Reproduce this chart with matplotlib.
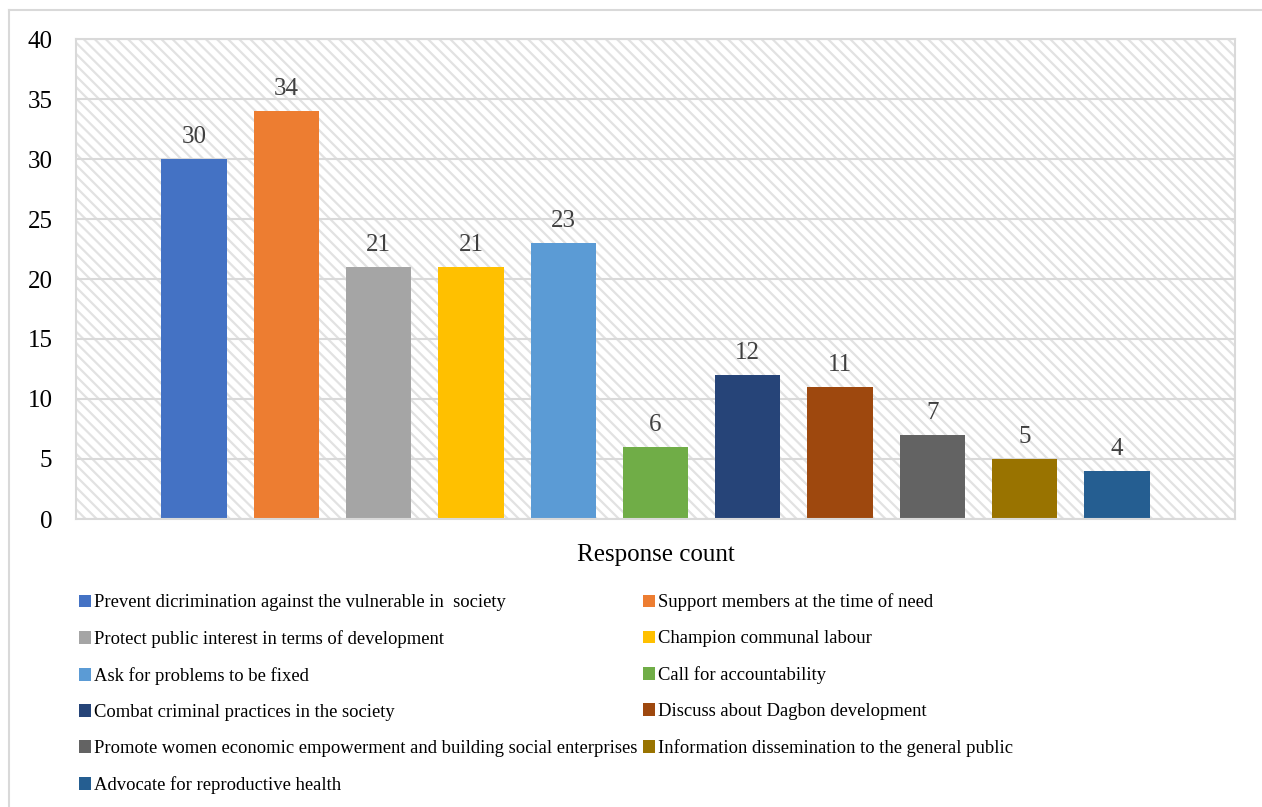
import matplotlib.pyplot as plt
from matplotlib.patches import Rectangle
from matplotlib.lines import Line2D

plt.rcParams['font.family'] = ['Liberation Serif', 'DejaVu Serif']
plt.rcParams['hatch.linewidth'] = 1.6

# responses per role
roles = [
    'Prevent dicrimination against the vulnerable in  society',
    'Support members at the time of need',
    'Protect public interest in terms of development',
    'Champion communal labour',
    'Ask for problems to be fixed',
    'Call for accountability',
    'Combat criminal practices in the society',
    'Discuss about Dagbon development',
    'Promote women economic empowerment and building social enterprises',
    'Information dissemination to the general public',
    'Advocate for reproductive health',
]
counts = [30, 34, 21, 21, 23, 6, 12, 11, 7, 5, 4]
colors = ['#4472C4', '#ED7D31', '#A5A5A5', '#FFC000', '#5B9BD5', '#70AD47',
          '#264478', '#9E480E', '#636363', '#997300', '#255E91']
yticks = [0, 5, 10, 15, 20, 25, 30, 35, 40]

grey = '#d9d9d9'

fig = plt.figure(figsize=(12.62, 8.07), dpi=100)
ax = fig.add_axes([76 / 1262, 1 - 519 / 807, (1235 - 76) / 1262, (519 - 39) / 807])

# hatched plot background
bg = Rectangle((0, 0), 1, 1, transform=ax.transAxes, facecolor='white',
               edgecolor='#e2e2e2', hatch='\\\\\\', linewidth=0, zorder=0)
ax.add_patch(bg)

bars = []
for i, (c, col, lab) in enumerate(zip(counts, colors, roles)):
    b = ax.bar(i, c, width=0.707, color=col, label=lab, zorder=3)
    bars.append(b)
    ax.annotate(str(c), (i, c), xytext=(0, 11.5), textcoords='offset points',
                ha='center', va='baseline', fontsize=18, color='#404040')

ax.set_xlim(-1.28, len(counts) - 1 + 1.28)
ax.set_ylim(0, 40)
ax.set_yticks(yticks)
ax.set_xticks([])
ax.tick_params(axis='y', length=0, pad=17, labelsize=18, labelcolor='black')
ax.yaxis.grid(True, color=grey, linewidth=1.5, zorder=1)
ax.set_axisbelow(False)
for s in ax.spines.values():
    s.set_color(grey)
    s.set_linewidth(1.5)
    s.set_zorder(4)

ax.set_xlabel('Response count', fontsize=18, labelpad=18)

# legend laid out row by row in two columns
order = [0, 2, 4, 6, 8, 10, 1, 3, 5, 7, 9]
handles = [bars[k] for k in order]
labels = [roles[k] for k in order]
fig.legend(handles, labels, ncol=2, loc='upper left',
           bbox_to_anchor=(79 / 1262, 1 - 593.5 / 807), frameon=False,
           fontsize=13.4, handlelength=0.65, handleheight=0.65,
           handletextpad=0.15, columnspacing=0.3, labelspacing=1.02,
           borderpad=0, borderaxespad=0)

# outer chart border
fig.add_artist(Line2D([9 / 1262, 1], [1 - 10 / 807, 1 - 10 / 807],
                      transform=fig.transFigure, color=grey, linewidth=1.5))
fig.add_artist(Line2D([9 / 1262, 9 / 1262], [0, 1 - 10 / 807],
                      transform=fig.transFigure, color=grey, linewidth=1.5))

fig.savefig('out.png', dpi=100)
